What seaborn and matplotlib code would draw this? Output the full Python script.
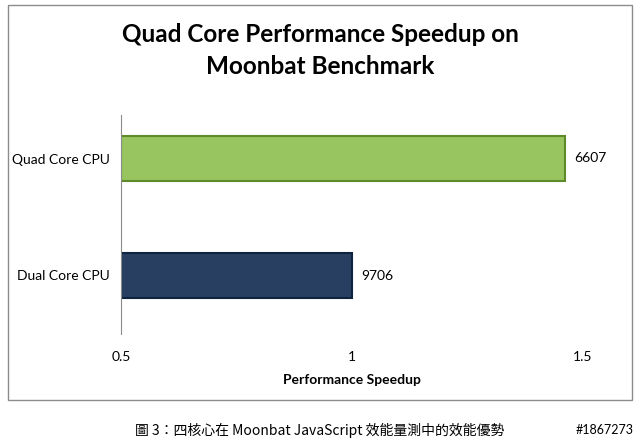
import matplotlib
matplotlib.use("Agg")
import matplotlib.pyplot as plt
import seaborn as sns
import pandas as pd
from matplotlib.patches import Rectangle
from matplotlib import font_manager as fm

categories = ["Quad Core CPU", "Dual Core CPU"]
speedup = [1.46, 1.0]
bar_labels = ["6607", "9706"]
xticks = [0.5, 1.0, 1.5]
xtick_labels = ["0.5", "1", "1.5"]
colors = ["#9ad64e", "#1f3d6b"]
edges = ["#5f8a2a", "#0f2340"]

df = pd.DataFrame({"cpu": categories, "speedup": speedup})

cjk = None
cands = [f for f in fm.fontManager.ttflist if "Sans CJK" in f.name]
cands.sort(key=lambda f: (abs((f.weight if isinstance(f.weight, int) else 400) - 400),
                          0 if "TC" in f.name else 1))
if cands:
    cjk = fm.FontProperties(fname=cands[0].fname, size=10)
else:
    cjk = fm.FontProperties(family="Noto Sans CJK TC", size=10)

plt.rcParams["font.family"] = "Lato"
fig = plt.figure(figsize=(6.4, 4.41), dpi=100)
fig.patches.append(Rectangle((8/640, 1-400/441), 624/640, 395/441, transform=fig.transFigure,
                             fill=False, edgecolor="#8c8c8c", lw=1))
ax = fig.add_axes([121/640, 1-334/441, 462/640, 234/441])
sns.barplot(data=df, y="cpu", x="speedup", hue="cpu", palette=colors, legend=False,
            width=0.385, ax=ax, orient="h")
for p, ec in zip(ax.patches, edges):
    x0 = 0.5
    p.set_x(x0)
    p.set_width(p.get_width() - x0)
    p.set_edgecolor(ec)
    p.set_linewidth(1.5)
ax.set_xlim(0.5, 1.5)
ax.set_ylim(1.5, -0.5)
ax.set_xticks(xticks)
ax.set_xticklabels(xtick_labels, fontsize=10)
ax.tick_params(axis="x", length=0, pad=12)
ax.tick_params(axis="y", length=0, labelsize=10, pad=8)
ax.set_ylabel("")
ax.set_xlabel("Performance Speedup", fontsize=10, fontweight="bold", labelpad=8)
for s in ["top", "right", "bottom"]:
    ax.spines[s].set_visible(False)
ax.spines["left"].set_color("#8c8c8c")
ax.spines["left"].set_bounds(1.5, -0.37)
for i, (v, lab) in enumerate(zip(speedup, bar_labels)):
    ax.text(v + 0.02, i, lab, va="center", ha="left", fontsize=10)
fig.text(0.5, 1-35/441, "Quad Core Performance Speedup on", ha="center", va="center",
         fontsize=17.5, fontweight="bold")
fig.text(0.5, 1-67/441, "Moonbat Benchmark", ha="center", va="center",
         fontsize=17.5, fontweight="bold")
fig.text(0.5, 1-430/441, "圖 3：四核心在 Moonbat JavaScript 效能量測中的效能優勢", ha="center",
         va="center", fontproperties=cjk)
fig.text(0.99, 1-430/441, "#1867273", ha="right", va="center", fontsize=9)
fig.savefig("out.png", dpi=100)
